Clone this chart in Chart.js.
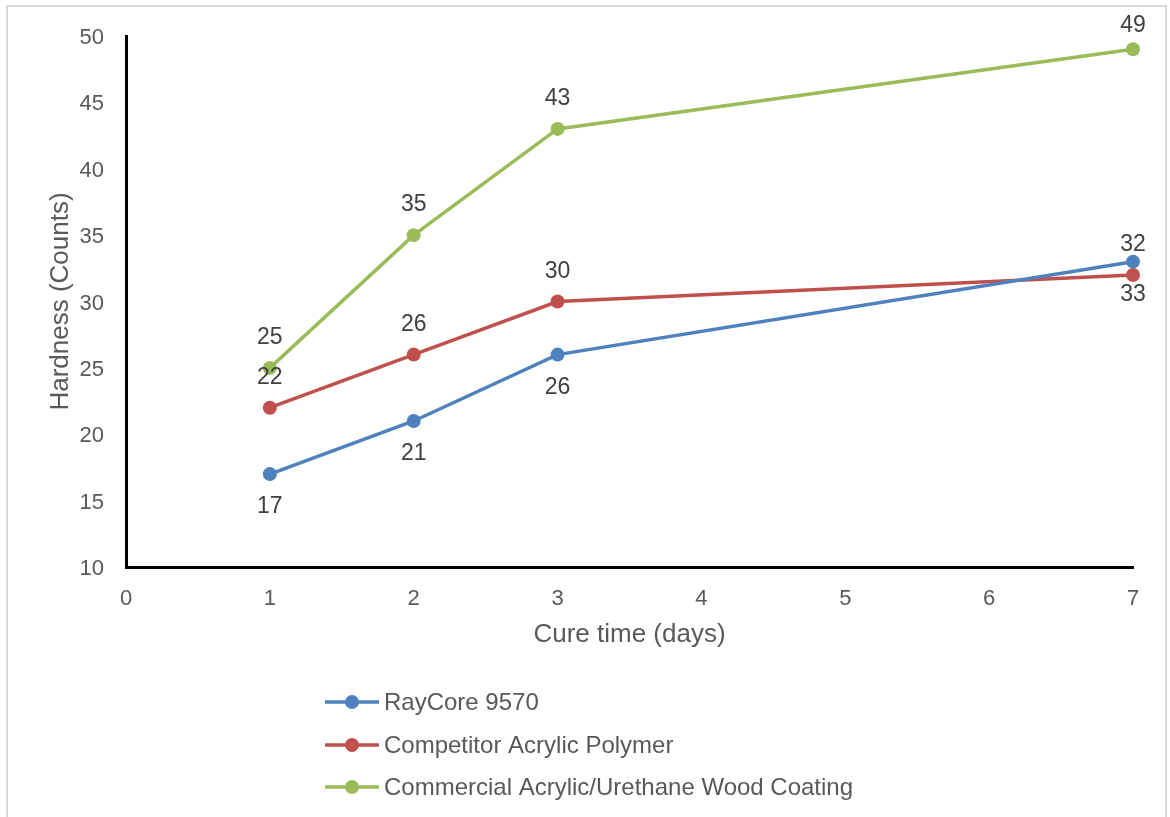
<!DOCTYPE html>
<html>
<head>
<meta charset="utf-8">
<script src="https://cdn.jsdelivr.net/npm/chart.js@4.4.1/dist/chart.umd.min.js"></script>
<style>
  html, body { margin: 0; padding: 0; background: #ffffff; }
  #wrap { position: relative; width: 1170px; height: 817px; }
  #frame { position: absolute; left: 6px; top: 5px; right: 3px; bottom: -4px; border: 2px solid #d9d9d9; pointer-events: none; }
  canvas { display: block; }
</style>
</head>
<body>
<div id="wrap">
  <canvas id="c" width="1170" height="817"></canvas>
  <div id="frame"></div>
</div>
<script>
// ---- Data ----
const cureDays = [1, 2, 3, 7];
const seriesNames = ["RayCore 9570", "Competitor Acrylic Polymer", "Commercial Acrylic/Urethane Wood Coating"];
const rayCore = [17, 21, 26, 33];
const competitor = [22, 26, 30, 32];
const commercial = [25, 35, 43, 49];
const labelSide = ["below", "above", "above"];
const yTicks = [10, 15, 20, 25, 30, 35, 40, 45, 50];
const xTicks = [0, 1, 2, 3, 4, 5, 6, 7];

const colors = ["#4f81bd", "#c0504d", "#9bbb59"];
const FONT = "'Liberation Sans', Arial, sans-serif";

function toPoints(vals) { return cureDays.map((d, i) => ({ x: d, y: vals[i] })); }

const seriesValues = [rayCore, competitor, commercial];
const datasets = seriesValues.map((vals, i) => ({
  label: seriesNames[i],
  data: toPoints(vals),
  borderColor: colors[i],
  backgroundColor: colors[i],
  pointBackgroundColor: colors[i],
  pointBorderColor: colors[i],
  borderWidth: 3.5,
  pointRadius: 7,
  pointBorderWidth: 0,
  pointHoverRadius: 7,
  tension: 0,
  clip: false,
  labelSide: labelSide[i]
}));

const dataLabelPlugin = {
  id: 'dataLabels',
  afterDatasetsDraw(chart) {
    const ctx = chart.ctx;
    ctx.save();
    ctx.font = "23px " + FONT;
    ctx.fillStyle = "#404040";
    ctx.textAlign = "center";
    ctx.textBaseline = "middle";
    chart.data.datasets.forEach((ds, di) => {
      const meta = chart.getDatasetMeta(di);
      meta.data.forEach((pt, i) => {
        let y = ds.labelSide === "above" ? pt.y - 30 : pt.y + 33;
        if (y < 26) y = 26;
        ctx.fillText(String(ds.data[i].y), pt.x, y);
      });
    });
    ctx.restore();
  }
};

const legendPlugin = {
  id: 'customLegend',
  afterDraw(chart) {
    const ctx = chart.ctx;
    ctx.save();
    const x0 = 325, x1 = 379, textX = 384;
    const ys = [702, 745, 787];
    ctx.font = "24px " + FONT;
    ctx.textBaseline = "middle";
    ctx.textAlign = "left";
    chart.data.datasets.forEach((ds, i) => {
      const y = ys[i];
      ctx.strokeStyle = ds.borderColor;
      ctx.lineWidth = 3.5;
      ctx.beginPath();
      ctx.moveTo(x0, y);
      ctx.lineTo(x1, y);
      ctx.stroke();
      ctx.fillStyle = ds.borderColor;
      ctx.beginPath();
      ctx.arc(352, y, 7, 0, Math.PI * 2);
      ctx.fill();
      ctx.fillStyle = "#595959";
      ctx.fillText(ds.label, textX, y + 1);
    });
    ctx.restore();
  }
};

new Chart(document.getElementById('c'), {
  type: 'line',
  data: { datasets },
  options: {
    responsive: false,
    animation: false,
    events: [],
    layout: { padding: { left: 0, right: 37, top: 36, bottom: 167 } },
    plugins: { legend: { display: false }, tooltip: { enabled: false } },
    scales: {
      x: {
        type: 'linear',
        min: 0, max: 7,
        afterBuildTicks(scale) { scale.ticks = xTicks.map(v => ({ value: v })); },
        afterFit(scale) { scale.height = 83; },
        grid: { display: false, drawTicks: false },
        border: { display: true, color: '#000000', width: 3 },
        ticks: { color: '#595959', font: { family: FONT, size: 22 }, padding: 19, maxRotation: 0 },
        title: { display: true, text: 'Cure time (days)', color: '#595959', font: { family: FONT, size: 26 }, padding: { top: 0, bottom: 0 } }
      },
      y: {
        type: 'linear',
        min: 10, max: 50,
        afterBuildTicks(scale) { scale.ticks = yTicks.map(v => ({ value: v })); },
        afterFit(scale) { scale.width = 126; },
        grid: { display: false, drawTicks: false },
        border: { display: true, color: '#000000', width: 3 },
        ticks: { color: '#595959', font: { family: FONT, size: 22 }, padding: 22, labelOffset: 2 },
        title: { display: true, text: 'Hardness (Counts)', color: '#595959', font: { family: FONT, size: 26 }, padding: { top: 45, bottom: 0 } }
      }
    }
  },
  plugins: [dataLabelPlugin, legendPlugin]
});
</script>
</body>
</html>
